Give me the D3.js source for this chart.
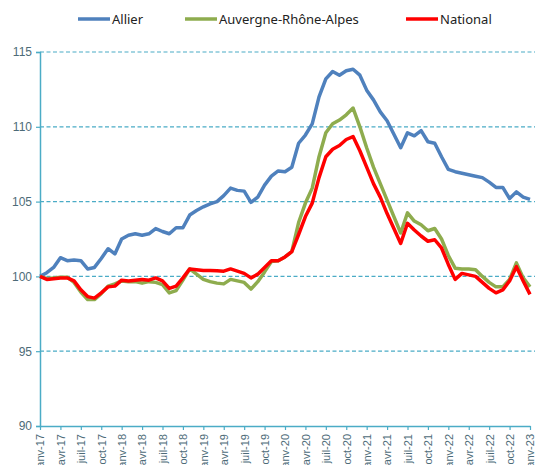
<!DOCTYPE html>
<html>
<head>
<meta charset="utf-8">
<script src="https://cdn.jsdelivr.net/npm/d3@7"></script>
<style>
  body { margin: 0; background: #fff; }
  svg { display: block; font-family: "Noto Sans", sans-serif; }
</style>
</head>
<body>
<div id="chart"></div>
<script>
//month labels, janv-17 to janv-23
var moisNoms = ["janv", "févr", "mars", "avr", "mai", "juin", "juil", "août", "sept", "oct", "nov", "déc"];
var mois = [];
for (var a = 17; a <= 23; a++) {
  moisNoms.forEach(function(m, k) {
    if (a < 23 || k === 0) mois.push(m + "-" + a);
  });
}

var seriesNames = ["Allier", "Auvergne-Rhône-Alpes", "National"];
var seriesColors = ["#4f81bd", "#8eac4e", "#ff0000"];

var allier = [100.0, 100.25, 100.6, 101.25, 101.05, 101.1, 101.05, 100.5, 100.6, 101.2, 101.85, 101.5,
  102.5, 102.75, 102.85, 102.75, 102.85, 103.2, 103.0, 102.85, 103.25, 103.25, 104.1, 104.4,
  104.65, 104.85, 105.0, 105.4, 105.9, 105.75, 105.7, 104.95, 105.3, 106.1, 106.7, 107.05,
  107.0, 107.3, 108.9, 109.45, 110.2, 112.0, 113.2, 113.7, 113.45, 113.75, 113.85, 113.45,
  112.45, 111.8, 111.0, 110.4, 109.5, 108.6, 109.6, 109.4, 109.75, 109.0, 108.9, 108.0,
  107.15, 107.0, 106.9, 106.8, 106.7, 106.6, 106.3, 105.95, 105.95, 105.2, 105.65, 105.3,
  105.15];

var aura = [100.0, 99.85, 99.9, 99.95, 99.95, 99.6, 98.95, 98.45, 98.45, 98.85, 99.35, 99.5,
  99.7, 99.65, 99.65, 99.55, 99.65, 99.6, 99.45, 98.9, 99.05, 99.75, 100.5, 100.15,
  99.8, 99.65, 99.55, 99.5, 99.8, 99.7, 99.6, 99.15, 99.65, 100.3, 101.0, 101.05,
  101.3, 101.65, 103.6, 104.9, 105.9, 108.0, 109.6, 110.2, 110.45, 110.8, 111.25, 110.0,
  108.6, 107.3, 106.2, 105.1, 104.0, 102.9, 104.25, 103.7, 103.45, 103.05, 103.2, 102.5,
  101.4, 100.55, 100.5, 100.5, 100.45, 100.0, 99.6, 99.3, 99.3, 99.8, 100.9, 99.9,
  99.3];

var national = [100.0, 99.8, 99.85, 99.9, 99.9, 99.7, 99.1, 98.65, 98.55, 98.9, 99.3, 99.35,
  99.75, 99.7, 99.75, 99.8, 99.75, 99.9, 99.7, 99.2, 99.35, 99.9, 100.5, 100.45,
  100.4, 100.4, 100.38, 100.35, 100.5, 100.35, 100.2, 99.9, 100.15, 100.6, 101.05, 101.05,
  101.3, 101.65, 102.8, 104.0, 104.9, 106.6, 108.0, 108.5, 108.75, 109.15, 109.35, 108.4,
  107.3, 106.2, 105.3, 104.2, 103.2, 102.2, 103.55, 103.1, 102.7, 102.35, 102.45, 101.9,
  100.8, 99.8, 100.2, 100.1, 100.0, 99.6, 99.2, 98.9, 99.1, 99.7, 100.65, 99.7,
  98.8];

var yTicks = [90, 95, 100, 105, 110, 115];

var seriesData = [allier, aura, national];

var svgWidth = 535;
var svgHeight = 465;

var margin = { top: 52, right: 5, bottom: 39, left: 40 };
var width = 490;
var height = svgHeight - margin.top - margin.bottom;

var svg = d3.select("#chart")
	.append("svg")
	.attr("width", svgWidth)
	.attr("height", svgHeight);

var chartGroup = svg.append("g")
	.attr("transform", `translate(${margin.left}, ${margin.top})`);

var xScale = d3.scaleLinear()
	.domain([0, mois.length - 1])
	.range([0, width]);

var yScale = d3.scaleLinear()
	.domain([90, 115])
	.range([height, 0]);

var axisColor = "#4bacc6";
var textColor = "#4d6b78";

//dashed gridlines
chartGroup.selectAll(".grid")
	.data(yTicks.filter(d => d > 90))
	.enter()
	.append("line")
	.attr("x1", 0)
	.attr("x2", svgWidth)
	.attr("y1", d => yScale(d))
	.attr("y2", d => yScale(d))
	.attr("stroke", axisColor)
	.attr("stroke-width", 1.2)
	.attr("stroke-dasharray", "4,2.5");

//y axis
var leftAxis = d3.axisLeft(yScale)
	.tickValues(yTicks)
	.tickSize(4)
	.tickPadding(4);

var yAxis = chartGroup.append("g")
	.call(leftAxis);
yAxis.select(".domain").attr("stroke", axisColor).attr("stroke-width", 1.5);
yAxis.selectAll(".tick line").attr("stroke", axisColor).attr("stroke-width", 1.2);
yAxis.selectAll("text")
	.attr("fill", textColor)
	.style("font-size", "12px");

//x axis, ticks every 3 months
var bottomAxis = d3.axisBottom(xScale)
	.tickValues(d3.range(0, mois.length, 3))
	.tickFormat(i => mois[i])
	.tickSize(4)
	.tickSizeOuter(0);

var xAxis = chartGroup.append("g")
	.attr("transform", `translate(0, ${height})`)
	.call(bottomAxis);
xAxis.select(".domain").attr("stroke", axisColor).attr("stroke-width", 1.5);
xAxis.selectAll(".tick line").attr("stroke", axisColor).attr("stroke-width", 1.2);
xAxis.selectAll("text")
	.attr("fill", textColor)
	.style("font-size", "11px")
	.attr("text-anchor", "end")
	.attr("transform", "rotate(-90)")
	.attr("x", -8)
	.attr("y", 0)
	.attr("dy", "0.35em");

//lines
var line = d3.line()
	.x((d, i) => xScale(i))
	.y(d => yScale(d));

chartGroup.selectAll(".serie")
	.data(seriesData)
	.enter()
	.append("path")
	.attr("fill", "none")
	.attr("stroke", (d, i) => seriesColors[i])
	.attr("stroke-width", 3.5)
	.attr("stroke-linejoin", "round")
	.attr("d", line);

//legend
var legendX = [78, 185, 406];
var legend = svg.selectAll(".legend")
	.data(seriesNames)
	.enter()
	.append("g")
	.attr("transform", (d, i) => `translate(${legendX[i]}, 19)`);

legend.append("line")
	.attr("x1", 0)
	.attr("x2", 32)
	.attr("stroke", (d, i) => seriesColors[i])
	.attr("stroke-width", 3.5);

legend.append("text")
	.attr("x", 34)
	.attr("dy", "0.35em")
	.attr("fill", "#222")
	.style("font-size", "13px")
	.text(d => d);
</script>
</body>
</html>
